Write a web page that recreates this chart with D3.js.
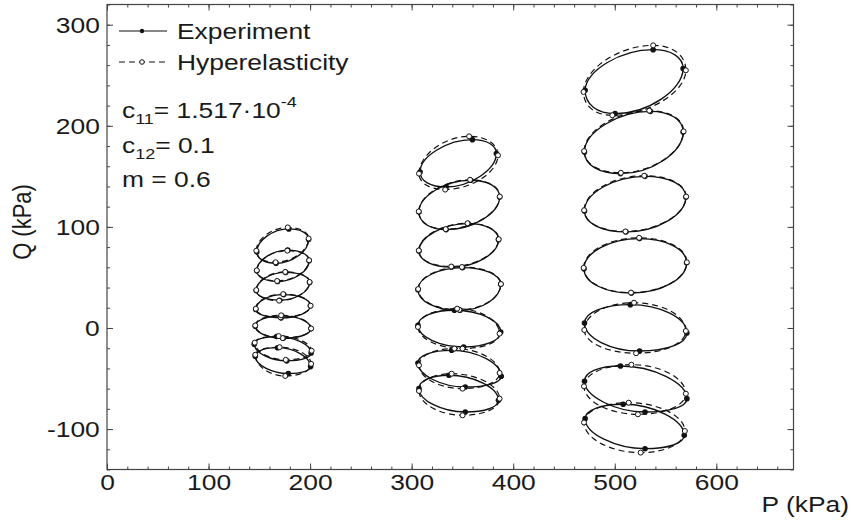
<!DOCTYPE html>
<html>
<head>
<meta charset="utf-8">
<script src="https://cdn.jsdelivr.net/npm/d3@7"></script>
<style>
  body { margin: 0; background: #fff; }
  svg text { font-family: "Liberation Sans", Arial, Helvetica, sans-serif; fill: #1a1a1a; }
</style>
</head>
<body>
<svg id="drawing_region"></svg>
<script>
// every loop = its four extreme points [left, top, right, bottom], each [P, Q] in kPa
const expLow = [
  [[147.5, 75.2], [179, 98], [198.5, 87.6], [166.5, 64]],
  [[147.5, 56.5], [178, 77], [199, 66.6], [168, 46]],
  [[147, 37], [176, 55], [199.5, 45], [170, 27.5]],
  [[146.5, 18.3], [174, 33], [200.3, 22], [171.5, 10]],
  [[146, 1.8], [172, 12], [200.8, -0.6], [173.5, -10.2]],
  [[145, -16], [167, -8.5], [201, -24.8], [177, -32.5]],
  [[146, -28], [168, -19.5], [200.5, -38.2], [178.5, -45]]
];
const hypLow = [
  [[147, 76.5], [178, 99.5], [198.5, 88.5], [166, 65]],
  [[147.5, 57], [177.5, 76.5], [199, 67], [167.5, 46.5]],
  [[147, 37.5], [175.5, 55.5], [199.5, 45.5], [169.5, 27]],
  [[146.5, 19], [173.5, 33.5], [200.5, 22], [171, 10.5]],
  [[146, 2.5], [171.5, 12.5], [201, -0.5], [173, -10]],
  [[145.5, -14.5], [169, -8], [201.5, -22.5], [176, -31.5]],
  [[146, -26.5], [170, -19], [201, -35.5], [175.5, -47.5]]
];
const expMid = [
  [[308.3, 154.3], [359.8, 186.3], [383.4, 172.5], [334, 139.5]],
  [[307.2, 114.8], [358.2, 146.1], [386.6, 129.6], [334, 97.3]],
  [[307.2, 76.2], [355.5, 103.2], [385.5, 87.4], [339.4, 60.3]],
  [[306.2, 37.9], [350.1, 59.7], [387.7, 43.2], [347.5, 17.5]],
  [[306.2, 2.6], [342.1, 17.5], [387.7, -4.0], [351.2, -18.8]],
  [[306.2, -34.6], [339.4, -22.1], [388.2, -47.8], [352.8, -58.4]],
  [[307.2, -60.0], [336.7, -46.8], [385.5, -71.6], [352.8, -83.1]]
];
const hypMid = [
  [[307.2, 152.7], [356.6, 189.6], [385, 170.8], [333, 136.9]],
  [[307, 115.3], [357.5, 146.6], [386.8, 130], [333.5, 97.8]],
  [[307, 76.7], [355, 103.6], [385.7, 87.8], [339, 60.8]],
  [[306.4, 38.5], [349.5, 60.3], [387.9, 43.5], [347, 18]],
  [[306.2, 1], [344.8, 19.1], [386.6, -5.6], [350.1, -20.4]],
  [[307.2, -36.9], [342.1, -20.4], [386.6, -44.5], [350.1, -60.0]],
  [[307.2, -62.3], [339.4, -45.2], [386.6, -69.9], [350.1, -86.4]]
];
const expHigh = [
  [[470.8, 235.1], [537.8, 275.3], [567.3, 256.6], [500.3, 212.0]],
  [[470.2, 174.1], [535.1, 214.3], [567.3, 193.9], [505.6, 152.7]],
  [[470.2, 115.7], [529.8, 150.0], [570, 129.6], [511, 95.0]],
  [[469.7, 58.7], [524.4, 88.4], [570.7, 64.6], [516.4, 34.6]],
  [[470.2, 4.9], [515.3, 23.1], [571, -4.9], [524.4, -22.8]],
  [[470.2, -52.8], [505.6, -37.6], [571, -69.9], [529.8, -83.1]],
  [[470.8, -89.7], [508.3, -75.5], [568.4, -106.2], [529.8, -119.4]]
];
const hypHigh = [
  [[469.2, 233.5], [537.8, 279.6], [570, 254.9], [497.6, 210.4]],
  [[469.8, 175], [534, 215], [567.8, 194.5], [506, 153.5]],
  [[469.8, 116.5], [529, 150.6], [570.3, 130], [510.5, 95.5]],
  [[469.3, 59.5], [524, 89.2], [571, 65], [516, 35]],
  [[470, -2], [519, 25], [570, -3], [521, -25]],
  [[469.7, -57.7], [516.4, -36.3], [570, -65], [522.8, -85.4]],
  [[469.7, -93.5], [513.7, -73.9], [569, -101.9], [525.5, -123.3]]
];

const xTicks = [0, 100, 200, 300, 400, 500, 600];
const xTickLabels = ['0', '100', '200', '300', '400', '500', '600'];
const yTicks = [-100, 0, 100, 200, 300];
const yTickLabels = ['-100', '0', '100', '200', '300'];
const legendLabels = ['Experiment', 'Hyperelasticity'];
const xLabel = 'P (kPa)';
const yLabel = 'Q (kPa)';

const config = {
    width: 851,
    height: 523,
    margin: {top: 4.5, right: 57.5, bottom: 53.5, left: 107},
    stretch: 'scale(1.2,1)'
};

const svg = d3.select('#drawing_region')
    .attr('width', config.width)
    .attr('height', config.height);

const x = d3.scaleLinear()
    .domain([0, 676])
    .range([config.margin.left, config.width - config.margin.right]);

const y = d3.scaleLinear()
    .domain([-140, 320])
    .range([config.height - config.margin.bottom, config.margin.top]);

// frame
svg.append('rect')
    .attr('x', x(0)).attr('y', y(320))
    .attr('width', x(676) - x(0)).attr('height', y(-140) - y(320))
    .attr('fill', 'none').attr('stroke', '#444').attr('stroke-width', 1.2);

const xMinor = d3.range(0, 676, 20);
const yMinor = d3.range(-140, 321, 20);

function frameAxis(axis, pos, values, size) {
    const g = svg.append('g')
        .attr('transform', pos)
        .call(axis.tickValues(values).tickSize(size).tickFormat(''));
    g.select('.domain').remove();
    g.selectAll('line').attr('stroke', '#444');
    return g;
}
frameAxis(d3.axisBottom(x), `translate(0,${y(-140)})`, xMinor, -3);
frameAxis(d3.axisTop(x), `translate(0,${y(320)})`, xMinor, -3);
frameAxis(d3.axisLeft(y), `translate(${x(0)},0)`, yMinor, -3);
frameAxis(d3.axisRight(y), `translate(${x(676)},0)`, yMinor, -3);
frameAxis(d3.axisTop(x), `translate(0,${y(320)})`, xTicks, -6);
frameAxis(d3.axisRight(y), `translate(${x(676)},0)`, yTicks, -6);

const xaxis_group = svg.append('g')
    .attr('transform', `translate(0,${y(-140)})`)
    .call(d3.axisBottom(x).tickValues(xTicks).tickSize(-6).tickPadding(5)
        .tickFormat((d, i) => xTickLabels[i]));
const yaxis_group = svg.append('g')
    .attr('transform', `translate(${x(0)},0)`)
    .call(d3.axisLeft(y).tickValues(yTicks).tickSize(-6).tickPadding(6)
        .tickFormat((d, i) => yTickLabels[i]));

[xaxis_group, yaxis_group].forEach(g => {
    g.select('.domain').remove();
    g.selectAll('line').attr('stroke', '#444');
    g.selectAll('text')
        .attr('font-size', 22)
        .attr('fill', '#1a1a1a')
        .attr('transform', config.stretch);
});
yaxis_group.selectAll('text').attr('dy', '0.36em');

svg.append('text')
    .attr('transform', `translate(849,512) ${config.stretch}`)
    .attr('text-anchor', 'end')
    .attr('font-size', 22)
    .text(xLabel);

svg.append('text')
    .attr('transform', `translate(31,222) rotate(-90) scale(1,1.2)`)
    .attr('text-anchor', 'middle')
    .attr('font-size', 22)
    .text(yLabel);

// closed loop through the four extreme points (vertical tangents at left/right, horizontal at top/bottom)
function loopPath(pts) {
    const [L, T, R, B] = pts.map(d => [x(d[0]), y(d[1])]);
    const cx = (L[0] + R[0] + T[0] + B[0]) / 4;
    const cy = (L[1] + R[1] + T[1] + B[1]) / 4;
    const hx = (R[0] - L[0]) / 2, hy = (B[1] - T[1]) / 2;
    let c = ((cy - R[1]) / hy + (T[0] - cx) / hx) / 2;
    c = Math.max(-0.94, Math.min(0.94, c));
    const a1 = Math.acos(c), a2 = Math.PI - a1;
    const kk = phi => 4 / 3 * Math.tan(phi / 4) / Math.tan(phi / 2);
    const k1 = kk(a1), k2 = kk(a2);
    const p = d3.path();
    p.moveTo(L[0], L[1]);
    p.bezierCurveTo(L[0], L[1] + k2 * (T[1] - L[1]), T[0] + k2 * (L[0] - T[0]), T[1], T[0], T[1]);
    p.bezierCurveTo(T[0] + k1 * (R[0] - T[0]), T[1], R[0], R[1] + k1 * (T[1] - R[1]), R[0], R[1]);
    p.bezierCurveTo(R[0], R[1] + k2 * (B[1] - R[1]), B[0] + k2 * (R[0] - B[0]), B[1], B[0], B[1]);
    p.bezierCurveTo(B[0] + k1 * (L[0] - B[0]), B[1], L[0], L[1] + k1 * (B[1] - L[1]), L[0], L[1]);
    p.closePath();
    return p.toString();
}

const hypLoops = hypLow.concat(hypMid, hypHigh);
const expLoops = expLow.concat(expMid, expHigh);

const chart = svg.append('g');

chart.selectAll('path.hyp')
    .data(hypLoops)
    .join('path')
    .attr('class', 'hyp')
    .attr('d', loopPath)
    .attr('fill', 'none')
    .attr('stroke', '#111')
    .attr('stroke-width', 1.2)
    .attr('stroke-dasharray', '6,4');

chart.selectAll('path.exp')
    .data(expLoops)
    .join('path')
    .attr('class', 'exp')
    .attr('d', loopPath)
    .attr('fill', 'none')
    .attr('stroke', '#111')
    .attr('stroke-width', 1.35);

chart.selectAll('circle.exp')
    .data(expLoops.flat())
    .join('circle')
    .attr('class', 'exp')
    .attr('cx', d => x(d[0]))
    .attr('cy', d => y(d[1]))
    .attr('r', 2.8)
    .attr('fill', '#111');

chart.selectAll('circle.hyp')
    .data(hypLoops.flat())
    .join('circle')
    .attr('class', 'hyp')
    .attr('cx', d => x(d[0]))
    .attr('cy', d => y(d[1]))
    .attr('r', 2.5)
    .attr('fill', '#fff')
    .attr('stroke', '#111')
    .attr('stroke-width', 1);

// legend
const legend = svg.append('g');
legendLabels.forEach((label, i) => {
    const ly = 31 + i * 31;
    legend.append('line')
        .attr('x1', 119).attr('x2', 167)
        .attr('y1', ly).attr('y2', ly)
        .attr('stroke', '#111')
        .attr('stroke-width', 1.1)
        .attr('stroke-dasharray', i === 0 ? null : '6,4');
    legend.append('circle')
        .attr('cx', 142).attr('cy', ly)
        .attr('r', i === 0 ? 2.2 : 2.3)
        .attr('fill', i === 0 ? '#111' : '#fff')
        .attr('stroke', '#111').attr('stroke-width', i === 0 ? 0 : 1);
    legend.append('text')
        .attr('transform', `translate(177,${ly + 7.5}) ${config.stretch}`)
        .attr('font-size', 22)
        .text(label);
});

// fitted parameters
const params = svg.append('g');
const t1 = params.append('text')
    .attr('transform', `translate(122,118) ${config.stretch}`)
    .attr('font-size', 22);
t1.append('tspan').text('c');
t1.append('tspan').attr('font-size', 15).attr('dy', 6).text('11');
t1.append('tspan').attr('dy', -6).text('= 1.517·10');
t1.append('tspan').attr('font-size', 15).attr('dy', -11).text('-4');

const t2 = params.append('text')
    .attr('transform', `translate(122,152.5) ${config.stretch}`)
    .attr('font-size', 22);
t2.append('tspan').text('c');
t2.append('tspan').attr('font-size', 15).attr('dy', 6).text('12');
t2.append('tspan').attr('dy', -6).text('= 0.1');

params.append('text')
    .attr('transform', `translate(122,187) ${config.stretch}`)
    .attr('font-size', 22)
    .text('m = 0.6');
</script>
</body>
</html>
